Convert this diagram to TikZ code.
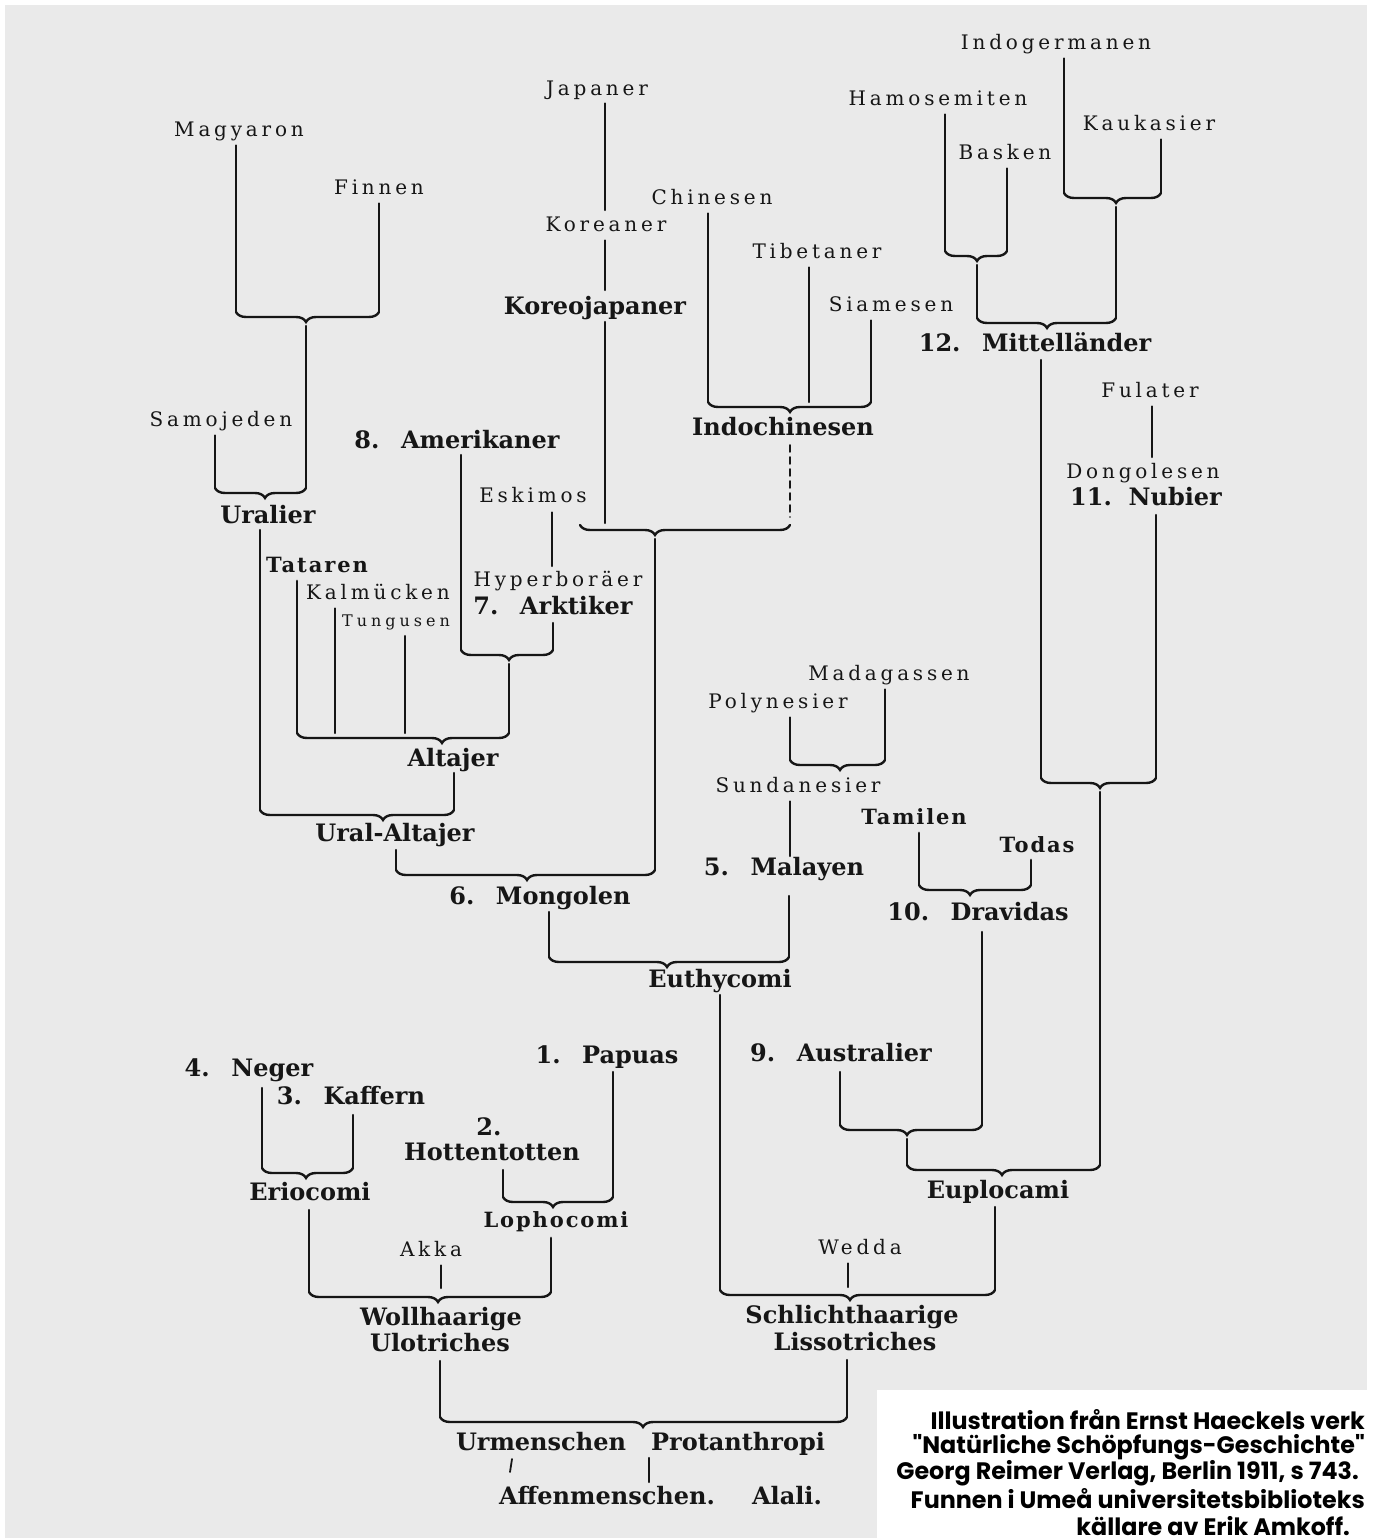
\documentclass[tikz,border=0pt]{standalone}
\usepackage{fontspec}
\usetikzlibrary{decorations.pathreplacing,calc}
\setmainfont{Liberation Serif}
\newfontfamily\regf[LetterSpace=19]{DejaVu Serif}
\newfontfamily\smlf[LetterSpace=25]{DejaVu Serif}
\newfontfamily\romf[LetterSpace=9]{DejaVu Serif}
\newfontfamily\slabf{DejaVu Serif}
\newfontfamily\capf{Poppins}
\definecolor{ink}{HTML}{161616}
\definecolor{paper}{HTML}{EAEAEA}
\newcommand\hbr[5]{%
  \coordinate (#1-l) at (#2,#4-5);
  \coordinate (#1-r) at (#3,#4-5);
  \coordinate (#1-t) at (#5,#4+5);
  \pgfmathsetmacro\braceasp{(#5-(#2))/((#3)-(#2))}
  \draw[ln,decorate,decoration={brace,mirror,amplitude=10pt,aspect=\braceasp}] (#1-l) -- (#1-r);
}
\newcommand\stem[3]{\draw[ln] ($(#1.south -| #3)+(0,#2)$) -- (#3);}
\newcommand\tipline[2]{\draw[ln] ($(#1)+(0,4)$) -- (#2);}
\begin{document}
\begin{tikzpicture}[x=1pt,y=-1pt,
  ln/.style={line width=2.4pt,draw=ink,line cap=round},
  reg/.style={inner sep=0pt,text height=14.6pt,text depth=0pt,text=ink,font=\regf\fontsize{20}{20}\selectfont},
  sml/.style={inner sep=0pt,text height=11.7pt,text depth=0pt,text=ink,font=\smlf\fontsize{16}{16}\selectfont},
  rom/.style={inner sep=0pt,text height=15.3pt,text depth=0pt,text=ink,font=\romf\bfseries\fontsize{21}{21}\selectfont},
  bld/.style={inner sep=0pt,text height=17.5pt,text depth=0pt,text=ink,font=\slabf\bfseries\fontsize{24}{24}\selectfont},
  captxt/.style={inner sep=0pt,anchor=east,text=black,font=\capf\bfseries\fontsize{23.8}{24}\selectfont}]
\useasboundingbox (0,0) rectangle (1377,1538);
\fill[white] (0,0) rectangle (1377,1538);
\fill[paper] (5,5) rectangle (1367,1538);

% ---------- labels ----------
\node[reg] (mag) at (239,129) {Magyaron};
\node[reg] (fin) at (379,187) {Finnen};
\node[reg] (sam) at (221,419) {Samojeden};
\node[bld] (ura) at (268,515) {Uralier};
\node[rom] (tat) at (317,565) {Tataren};
\node[reg] (kal) at (378,592) {Kalmücken};
\node[sml] (tun) at (396,621) {Tungusen};
\node[bld] (ame) at (457,440) {8.\hspace{0.9em}Amerikaner};
\node[reg] (esk) at (533,495) {Eskimos};
\node[reg] (hyp) at (558,579) {Hyperboräer};
\node[bld] (ark) at (553,606) {7.\hspace{0.9em}Arktiker};
\node[bld] (alt) at (453,758) {Altajer};
\node[bld] (ual) at (395,833) {Ural-Altajer};
\node[reg] (jap) at (597,88) {Japaner};
\node[reg] (kor) at (606,224) {Koreaner};
\node[bld] (kj) at (595,306) {Koreojapaner};
\node[reg] (chi) at (712,197) {Chinesen};
\node[reg] (tib) at (817,251) {Tibetaner};
\node[reg] (sia) at (891,304) {Siamesen};
\node[bld] (ind) at (783,427) {Indochinesen};
\node[bld] (mon) at (540,896) {6.\hspace{0.9em}Mongolen};
\node[reg] (ig) at (1056,42) {Indogermanen};
\node[reg] (ham) at (938,98) {Hamosemiten};
\node[reg] (bas) at (1005,152) {Basken};
\node[reg] (kau) at (1149,123) {Kaukasier};
\node[bld] (mit) at (1035,343) {12.\hspace{0.9em}Mittelländer};
\node[reg] (ful) at (1150,390) {Fulater};
\node[reg] (don) at (1143,471) {Dongolesen};
\node[bld] (nub) at (1146,497) {11.\hspace{0.7em}Nubier};
\node[reg] (mad) at (889,673) {Madagassen};
\node[reg] (pol) at (778,701) {Polynesier};
\node[reg] (sun) at (798,785) {Sundanesier};
\node[bld] (mal) at (784,867) {5.\hspace{0.9em}Malayen};
\node[rom] (tam) at (914,817) {Tamilen};
\node[rom] (tod) at (1037,845) {Todas};
\node[bld] (dra) at (978,912) {10.\hspace{0.9em}Dravidas};
\node[bld] (eut) at (720,979) {Euthycomi};
\node[bld] (aus) at (841,1053) {9.\hspace{0.9em}Australier};
\node[bld] (epl) at (998,1190) {Euplocami};
\node[reg] (wed) at (860,1247) {Wedda};
\node[bld] (sch) at (852,1315) {Schlichthaarige};
\node[bld] (lis) at (855,1342) {Lissotriches};
\node[bld] (neg) at (249,1068) {4.\hspace{0.9em}Neger};
\node[bld] (kaf) at (351,1096) {3.\hspace{0.9em}Kaffern};
\node[bld] (two) at (489,1127) {2.};
\node[bld] (hot) at (492,1152) {Hottentotten};
\node[bld] (pap) at (607,1055) {1.\hspace{0.9em}Papuas};
\node[bld] (eri) at (310,1192) {Eriocomi};
\node[rom] (lop) at (556,1220) {Lophocomi};
\node[reg] (akk) at (431,1249) {Akka};
\node[bld] (wol) at (441,1317) {Wollhaarige};
\node[bld] (ulo) at (440,1343) {Ulotriches};
\node[bld] (urm) at (541,1442) {Urmenschen};
\node[bld] (pro) at (738,1442) {Protanthropi};
\node[bld] (aff) at (607,1496) {Affenmenschen.};
\node[bld] (ala) at (787,1496) {Alali.};

% ---------- braces ----------
\hbr{bMF}{236}{379}{317}{306}
\hbr{bU}{215}{306}{493}{265}
\hbr{bAA}{461}{553}{655}{509}
\hbr{bAlt}{297}{509}{738}{442}
\hbr{bUA}{260}{454}{815}{383}
\hbr{bInd}{708}{871}{407}{790}
\hbr{bKI}{580}{790}{530}{655}
\hbr{bMon}{396}{655}{875}{527}
\hbr{bEu}{549}{789}{962}{667}
\hbr{bIK}{1064}{1161}{198}{1116}
\hbr{bHB}{945}{1007}{256}{977}
\hbr{bMit}{977}{1116}{323}{1047}
\hbr{bMN}{1041}{1156}{783}{1100}
\hbr{bPM}{790}{885}{765}{840}
\hbr{bDr}{919}{1031}{890}{970}
\hbr{bAD}{840}{982}{1130}{907}
\hbr{bEpl}{907}{1100}{1170}{1002}
\hbr{bSch}{720}{995}{1295}{850}
\hbr{bNK}{262}{353}{1173}{306}
\hbr{bHP}{503}{613}{1202}{553}
\hbr{bWo}{309}{551}{1297}{438}
\hbr{bUr}{440}{847}{1422}{643}

% ---------- free line ends ----------
\coordinate (kalE) at (335,733);
\coordinate (tunE) at (405,733);
\coordinate (eskE) at (552,566);
\coordinate (korE) at (605,210);
\coordinate (kjE) at (605,290);
\coordinate (kjB) at (605,523);
\coordinate (tibE) at (809,402);
\coordinate (indE) at (790,517);
\coordinate (sunE) at (790,856);
\coordinate (fulE) at (1152,457);
\coordinate (wedE) at (848,1287);
\coordinate (akkE) at (441,1288);
\coordinate (urT) at (649,1482);
\coordinate (tick1) at (512,1459);
\coordinate (tick2) at (510,1472);

% ---------- stems ----------
\stem{mag}{9}{bMF-l}
\stem{fin}{9}{bMF-r}
\tipline{bMF-t}{bU-r}
\stem{sam}{9}{bU-l}
\stem{ura}{6}{bUA-l}
\stem{tat}{8}{bAlt-l}
\stem{kal}{9}{kalE}
\stem{tun}{9}{tunE}
\stem{ame}{6}{bAA-l}
\stem{ark}{8}{bAA-r}
\stem{esk}{10}{eskE}
\tipline{bAA-t}{bAlt-r}
\stem{alt}{6}{bUA-r}
\stem{ual}{8}{bMon-l}
\stem{jap}{8}{korE}
\stem{kor}{9}{kjE}
\stem{kj}{7}{kjB}
\stem{chi}{9}{bInd-l}
\stem{tib}{9}{tibE}
\stem{sia}{9}{bInd-r}
\draw[ln,line width=1.6pt,dash pattern=on 7pt off 5pt] ($(ind.south -| indE)+(0,9)$) -- (indE);
\tipline{bKI-t}{bMon-r}
\stem{mon}{7}{bEu-l}
\stem{mal}{20}{bEu-r}
\stem{ig}{9}{bIK-l}
\stem{kau}{9}{bIK-r}
\stem{ham}{9}{bHB-l}
\stem{bas}{9}{bHB-r}
\tipline{bHB-t}{bMit-l}
\tipline{bIK-t}{bMit-r}
\stem{mit}{8}{bMN-l}
\stem{ful}{9}{fulE}
\stem{nub}{9}{bMN-r}
\tipline{bMN-t}{bEpl-r}
\stem{pol}{9}{bPM-l}
\stem{mad}{9}{bPM-r}
\stem{sun}{9}{sunE}
\stem{tam}{8}{bDr-l}
\stem{tod}{7}{bDr-r}
\stem{dra}{11}{bAD-r}
\stem{aus}{10}{bAD-l}
\tipline{bAD-t}{bEpl-l}
\stem{epl}{8}{bSch-r}
\stem{wed}{9}{wedE}
\stem{eut}{7}{bSch-l}
\stem{lis}{9}{bUr-r}
\stem{neg}{11}{bNK-l}
\stem{kaf}{10}{bNK-r}
\stem{hot}{9}{bHP-l}
\stem{pap}{8}{bHP-r}
\stem{eri}{9}{bWo-l}
\stem{lop}{10}{bWo-r}
\stem{akk}{9}{akkE}
\stem{ulo}{9}{bUr-l}
\stem{urm}{7}{urT}
\draw[ln,line width=1.8pt] (tick1) -- (tick2);

% ---------- caption ----------
\begin{scope}
\clip (0,0) rectangle (1377,1538);
\fill[white] (877,1390) rectangle (1377,1538);
\node[captxt] (c1) at (1365,1420) {Illustration från Ernst Haeckels verk};
\node[captxt] (c2) at (1365,1447) {"Natürliche Schöpfungs-Geschichte"};
\node[captxt] (c3) at (1359,1473) {Georg Reimer Verlag, Berlin 1911, s 743.};
\node[captxt] (c4) at (1365,1499) {Funnen i Umeå universitetsbiblioteks};
\node[captxt] (c5) at (1350,1526) {källare av Erik Amkoff.};
\end{scope}
\end{tikzpicture}
\end{document}
